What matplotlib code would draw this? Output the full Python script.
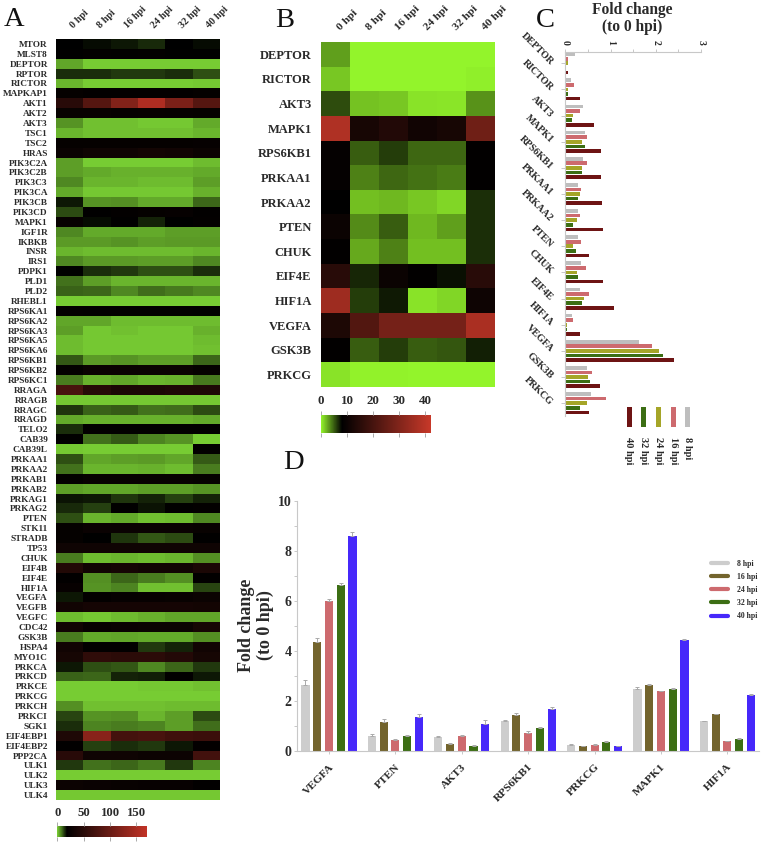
import numpy as np
import matplotlib
matplotlib.use("Agg")
import matplotlib.pyplot as plt
from matplotlib.colors import LinearSegmentedColormap
from matplotlib.patches import Rectangle
from matplotlib.lines import Line2D
from matplotlib.ticker import MultipleLocator
from matplotlib.transforms import ScaledTranslation

plt.rcParams['font.family'] = ['Liberation Serif', 'DejaVu Serif']
plt.rcParams['font.weight'] = 'bold'

W, H = 761, 844
DARK = '#2a2a2a'
AXC = '#c8c8c8'

hours_all = ['0 hpi', '8 hpi', '16 hpi', '24 hpi', '32 hpi', '40 hpi']

genes_a = ['MTOR','MLST8','DEPTOR','RPTOR','RICTOR','MAPKAP1','AKT1','AKT2','AKT3','TSC1','TSC2','HRAS',
 'PIK3C2A','PIK3C2B','PIK3C3','PIK3CA','PIK3CB','PIK3CD','MAPK1','IGF1R','IKBKB','INSR','IRS1','PDPK1',
 'PLD1','PLD2','RHEBL1','RPS6KA1','RPS6KA2','RPS6KA3','RPS6KA5','RPS6KA6','RPS6KB1','RPS6KB2','RPS6KC1',
 'RRAGA','RRAGB','RRAGC','RRAGD','TELO2','CAB39','CAB39L','PRKAA1','PRKAA2','PRKAB1','PRKAB2','PRKAG1',
 'PRKAG2','PTEN','STK11','STRADB','TP53','CHUK','EIF4B','EIF4E','HIF1A','VEGFA','VEGFB','VEGFC','CDC42',
 'GSK3B','HSPA4','MYO1C','PRKCA','PRKCD','PRKCE','PRKCG','PRKCH','PRKCI','SGK1','EIF4EBP1','EIF4EBP2',
 'PPP2CA','ULK1','ULK2','ULK3','ULK4']

values_a = [
 [18,17,16,14.5,18,17],[19,21,20,21,19,19],[3.5,0,0,0,0,0],[14,14,13,13,14,11],[2,0,0,0,0,0.5],
 [22,21,21,21,21,22],[50,85,120,155,115,85],[25,25,23,24,23,22],[5,1,1,0.5,0.5,3],[2,1,1,1,1,2],
 [22,22,22,22,22,23],[26,30,30,33,32,27],[4,0,0,0,0,1.5],[4,3,2.5,2.5,2.5,3],[6,2,2,1.5,1.5,4],
 [3,0.5,0.5,0.5,0.5,2.5],[16,5,5.5,3,3,9],[11.5,19,21,22,23,20],[24,17,19,15,18,21],[6,3,3,3,4,4],
 [4.5,4.5,5,4,4.5,4.5],[2,1.5,1.5,1.5,1.5,2],[6,4.5,4.5,4,4,6],[18,14,13,11,11,14],
 [8,4,2,2,2,2],[9.5,9,6,8.5,7.5,6],[0,0,0,0,0,0],[21,20,20,20,20,19],[3.5,3.5,1.5,1.5,1.5,1.5],
 [4,0.5,1,0.5,0.5,2.5],[1.5,0.5,0.5,0.5,0.5,1.5],[1.5,0.5,0.5,0.5,0.5,1],[10.5,4.5,5,4,4,9],
 [21,26,26,26,26,22],[7,2.5,3.5,2,2.5,7.5],[75,48,40,40,42,42],[0.5,0.5,0.5,0.5,0.5,0.5],
 [13.5,9.5,10,8,8.5,11.5],[3,2.5,2.5,2.5,2.5,3],[14,20,20,20,20,20],[19,8,10,6.5,5,0],
 [0.5,0,0,0,0,20],[11,3.5,4,4.5,3.5,10],[8,2,2,2.5,1.5,7],[21,24,24,24,24,22],[4,3.5,3.5,4,4,5],
 [16.5,16,13.5,15,12.5,15],[14.5,12.5,19,16.5,19,21],[11,2,3,1,1.5,6],[22,26,26,26,26,25],
 [22,18,13.5,10.5,11.5,19],[30,30,30,30,30,30],[7,1.5,2,1.5,2,5.5],[45,32,35,32,32,40],
 [20,5.5,9,7,5.5,20],[24,5,6.5,1,1,12],[16,21,23,24,25,27],[32,35,35,35,35,33],
 [1.5,0.5,1.5,2.5,3.5,3.5],[32,24,26,27,27,36],[7,3,3.5,3,3,5.5],[32,20,20,13,15,32],
 [36,55,52,52,46,36],[16,11,10.5,6,9,13],[9.5,9,15,15.5,20,16],[0,0,0,0.5,0.5,1],[0,0,0,0,0,0],
 [5.5,1,1,1,1.5,1.5],[12,5,5.5,2,4,11.5],[14,6.5,7,6.5,4,8.5],[42,125,72,75,68,65],
 [20,12.5,14,13,16,21],[50,30,30,28,28,70],[13,8,9,7.5,13,6.5],[0,0,0,0,0,0],[28,26,25,24,24,20],
 [0.5,0.5,0.5,0.5,0.5,0.5]]

genes_b = ['DEPTOR','RICTOR','AKT3','MAPK1','RPS6KB1','PRKAA1','PRKAA2','PTEN','CHUK','EIF4E','HIF1A','VEGFA','GSK3B','PRKCG']
values_b = [
 [2.8,0,0,0,0,0],[1.5,0,0,0,0,0.2],[5.5,1.7,1.5,0.6,0.5,3.2],[38,12,14,11,12,27],
 [9,5,6,4.6,4.6,8.5],[9,3.8,4.6,4.3,4,8.5],[8,1.8,2,1.5,1,6.5],[10,3.5,5,2,2.8,6.5],
 [8.5,2.5,3.8,1.8,1.8,6.5],[15,6.8,10,8.5,7.5,15],[35,6,7.2,0.6,1,10.5],[13,22,28,28,28,37],
 [8.5,5,6,5,5.2,7],[0.6,0.1,0.1,0,0,0]]

hours_c = ['8 hpi', '16 hpi', '24 hpi', '32 hpi', '40 hpi']
colors_c = ['#bebebe', '#cd6a6e', '#a5a528', '#3c6e14', '#6e1414']
fold_c = [
 [.21,.06,.05,.02,.06],[.13,.20,.07,.05,.32],[.40,.32,.18,.15,.63],[.43,.47,.38,.43,.80],
 [.40,.48,.36,.36,.80],[.29,.35,.32,.29,.82],[.28,.32,.25,.18,.83],[.29,.35,.18,.23,.52],
 [.35,.46,.25,.27,.83],[.32,.52,.42,.38,1.07],[.14,.17,.03,.04,.33],[1.62,1.92,2.07,2.15,2.40],
 [.49,.58,.50,.55,.76],[.57,.89,.49,.32,.53]]

genes_d = ['VEGFA','PTEN','AKT3','RPS6KB1','PRKCG','MAPK1','HIF1A']
colors_d = ['#cdcdcd', '#73642d', '#cd6a6e', '#3c6e14', '#4628fa']
fold_d = [
 [2.65,4.37,6.00,6.63,8.63],[.62,1.17,.46,.62,1.37],[.55,.28,.62,.22,1.10],[1.20,1.44,.71,.93,1.70],
 [.25,.20,.25,.37,.20],[2.48,2.65,2.39,2.50,4.44],[1.19,1.47,.39,.49,2.23]]
err_d = [
 [.20,.15,.10,.08,.15],[.05,.10,.04,.03,.12],[.07,.03,.03,.03,.14],[.06,.08,.08,.03,.05],
 [.03,.02,.02,.02,.02],[.08,.03,.02,.03,.04],[.03,.03,.02,.05,.04]]

ticks_a = [0, 50, 100, 150]
ticks_b = [0, 10, 20, 30, 40]


def px_axes(left, top, right, bottom):
    return fig.add_axes([left / W, 1 - bottom / H, (right - left) / W, (bottom - top) / H])


def heat_cmap(vmax, black_at, low, high):
    return LinearSegmentedColormap.from_list('gbr', [(0, low), (black_at / vmax, (0, 0, 0)), (1, high)], N=512)


def heatmap(rect, genes, values, cmap, vmax, ysize, xsize, xpad, ypad, xshift):
    ax = px_axes(*rect)
    im = ax.imshow(np.array(values, float), cmap=cmap, vmin=0, vmax=vmax, aspect='auto', interpolation='nearest')
    ax.set_xticks(range(len(hours_all)), hours_all, rotation=45, ha='left', va='bottom',
                  rotation_mode='anchor', fontsize=xsize, color=DARK)
    ax.set_yticks(range(len(genes)), genes, fontsize=ysize, color=DARK)
    ax.xaxis.tick_top()
    ax.tick_params(length=0)
    ax.tick_params(axis='x', pad=xpad)
    ax.tick_params(axis='y', pad=ypad)
    shift = ScaledTranslation(xshift / 100, 0, fig.dpi_scale_trans)
    for lab in ax.get_xticklabels():
        lab.set_transform(lab.get_transform() + shift)
    for s in ax.spines.values():
        s.set_visible(False)
    return im


def colorbar(im, rect, ticks, size, pad):
    cax = px_axes(*rect)
    cb = fig.colorbar(im, cax=cax, orientation='horizontal')
    cb.outline.set_visible(False)
    cb.set_ticks(ticks)
    cb.ax.minorticks_off()
    cax.tick_params(axis='x', top=True, bottom=True, labeltop=True, labelbottom=False, length=3, width=0.7,
                    color='#aaaaaa', labelsize=size, pad=pad, labelcolor=DARK)


fig = plt.figure(figsize=(W / 100, H / 100), dpi=100)

# Panel A
cmap_a = heat_cmap(170, 18, (0.47, 0.80, 0.20), (0.76, 0.20, 0.15))
im_a = heatmap((56, 39, 219.5, 800), genes_a, values_a, cmap_a, 170, 6.7, 7.3, 6.5, 5.8, 5)
colorbar(im_a, (57.3, 826, 147, 837.3), ticks_a, 9.2, 2)

# Panel B
cmap_b = heat_cmap(42, 8, (0.58, 0.96, 0.17), (0.78, 0.22, 0.16))
im_b = heatmap((320.7, 42, 494.5, 386.7), genes_b, values_b, cmap_b, 42, 9, 8.2, 7, 6.5, 7)
colorbar(im_b, (321, 415, 430.7, 432.7), ticks_b, 9.4, 3)

# Panel C
ax_c = px_axes(565.3, 51.7, 701, 416)
ax_c.set_xlim(0, 3)
ax_c.set_ylim(13.49, -0.444)
off_c = 0.176
for j, col in enumerate(colors_c):
    ax_c.barh(np.arange(len(genes_b)) + (j - 2) * off_c, [r[j] for r in fold_c], height=0.14,
              color=col, label=hours_c[j])
ax_c.spines[['right', 'bottom']].set_visible(False)
ax_c.spines[['top', 'left']].set_color(AXC)
ax_c.xaxis.tick_top()
ax_c.set_xticks([0, 1, 2, 3], ['0', '1', '2', '3'], rotation=-90, fontsize=7, color=DARK, va='bottom', ha='center')
ax_c.xaxis.set_minor_locator(MultipleLocator(0.5))
ax_c.tick_params(axis='x', which='both', color=AXC, length=2, width=0.7, pad=3)
ax_c.set_yticks(range(len(genes_b)), genes_b, rotation=-45, ha='right', va='center', rotation_mode='anchor',
                fontsize=7.2, color=DARK)
ax_c.tick_params(axis='y', color=AXC, length=3, width=0.7, pad=7)
fig.text(632 / W, 1 - 18.5 / H, 'Fold change\n(to 0 hpi)', ha='center', va='center', fontsize=11.2,
         color=DARK, linespacing=1.15)

# Panel C rotated legend
legend_x = [687.7, 673.3, 658.3, 643.3, 629]
for x, col, lab in zip(legend_x, colors_c, hours_c):
    fig.add_artist(Rectangle(((x - 2.5) / W, 1 - 427 / H), 5 / W, 20 / H, transform=fig.transFigure,
                             facecolor=col, edgecolor='none'))
    fig.text(x / W, 1 - 437 / H, lab, rotation=-90, ha='center', va='top', fontsize=7.5, color=DARK)

# Panel D
ax_d = px_axes(297.3, 501.3, 759, 751)
ax_d.set_xlim(-0.477, 6.476)
ax_d.set_ylim(0, 10)
off_d = 0.177
for j, (col, lab) in enumerate(zip(colors_d, hours_c)):
    vals = [r[j] for r in fold_d]
    errs = [r[j] for r in err_d]
    ax_d.bar(np.arange(len(genes_d)) + (j - 2) * off_d, vals, width=0.122, color=col, label=lab,
             yerr=[np.zeros(len(errs)), errs],
             error_kw=dict(ecolor='#aaaaaa', elinewidth=0.7, capsize=1.3, capthick=0.7))
ax_d.spines[['right', 'top']].set_visible(False)
ax_d.spines[['left', 'bottom']].set_color(AXC)
ax_d.set_yticks([0, 2, 4, 6, 8, 10])
ax_d.yaxis.set_minor_locator(MultipleLocator(1))
ax_d.tick_params(axis='y', which='both', color=AXC, length=2, width=0.7, labelsize=10, labelcolor=DARK, pad=2)
ax_d.set_xticks(range(len(genes_d)), genes_d, rotation=45, ha='right', va='top', rotation_mode='anchor',
                fontsize=8.2, color=DARK)
ax_d.tick_params(axis='x', color=AXC, length=2.5, width=0.7, pad=5.5)
fig.text(256 / W, 1 - 625 / H, 'Fold change\n(to 0 hpi)', rotation=90, ha='center', va='center', fontsize=13,
         color=DARK, linespacing=1.2)
handles = [Line2D([0], [0], color=c, lw=3, solid_capstyle='round') for c in colors_d]
ax_d.legend(handles, hours_c, loc='upper left', bbox_to_anchor=(711 / W, 1 - 559.5 / H),
            bbox_transform=fig.transFigure, frameon=False, fontsize=5.6, handlelength=2.2,
            labelspacing=0.67, handletextpad=1.2, borderpad=0, borderaxespad=0, labelcolor=DARK)

# Panel letters
for letter, x, y in [('A', 4, 26), ('B', 275, 27), ('C', 536, 27), ('D', 283, 469)]:
    fig.text(x / W, 1 - y / H, letter, fontsize=20.5, fontweight='normal', color='#111111', ha='left', va='baseline')

fig.savefig('out.png', dpi=100)
